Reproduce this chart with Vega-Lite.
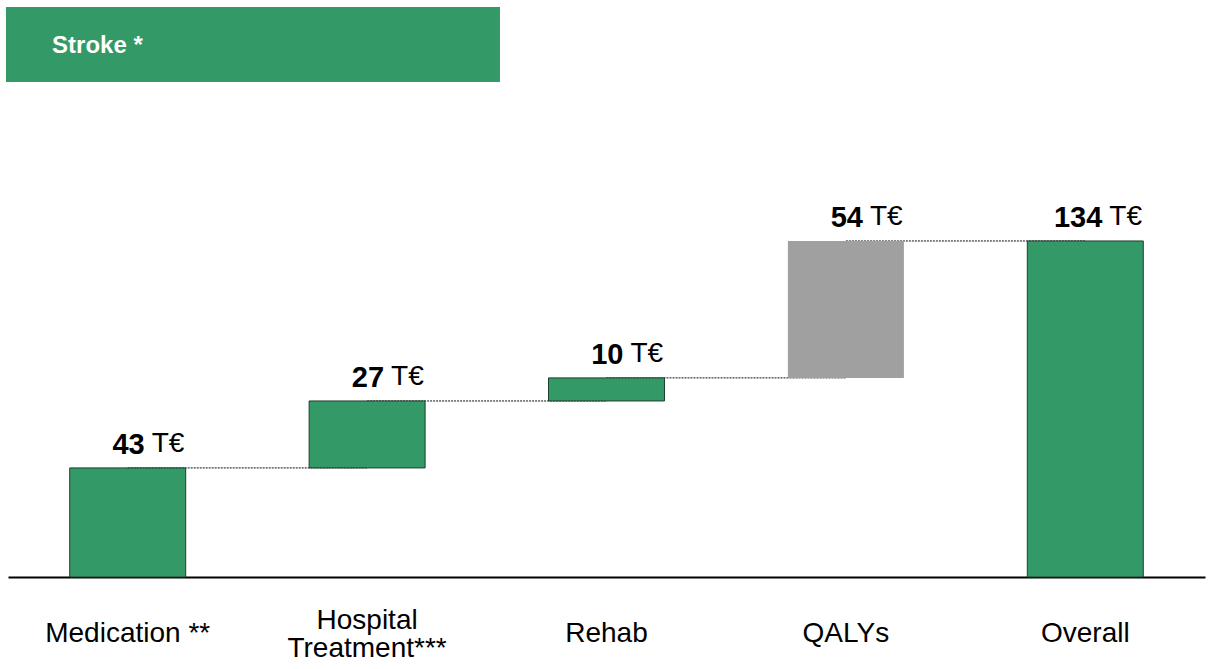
{
  "$schema": "https://vega.github.io/schema/vega-lite/v6.json",
  "autosize": {"type": "none"},
  "width": 1197,
  "height": 570,
  "padding": {"left": 8, "top": 7, "right": 8, "bottom": 92},
  "background": "white",
  "config": {"view": {"stroke": null}},
  "data": {
    "values": [
      {"kind": "bar", "cat": "Medication **", "start": 0, "end": 43.5, "label": "43", "type": "cost", "lines": 1},
      {"kind": "bar", "cat": "Hospital|Treatment***", "start": 43.5, "end": 70.2, "label": "27", "type": "cost", "lines": 2},
      {"kind": "bar", "cat": "Rehab", "start": 70.2, "end": 79.4, "label": "10", "type": "cost", "lines": 1},
      {"kind": "bar", "cat": "QALYs", "start": 79.4, "end": 134, "label": "54", "type": "qaly", "lines": 1},
      {"kind": "bar", "cat": "Overall", "start": 0, "end": 134, "label": "134", "type": "cost", "lines": 1},
      {"kind": "link", "seg": 1, "cat": "Medication **", "level": 43.5},
      {"kind": "link", "seg": 1, "cat": "Hospital|Treatment***", "level": 43.5},
      {"kind": "link", "seg": 2, "cat": "Hospital|Treatment***", "level": 70.2},
      {"kind": "link", "seg": 2, "cat": "Rehab", "level": 70.2},
      {"kind": "link", "seg": 3, "cat": "Rehab", "level": 79.4},
      {"kind": "link", "seg": 3, "cat": "QALYs", "level": 79.4},
      {"kind": "link", "seg": 4, "cat": "QALYs", "level": 134},
      {"kind": "link", "seg": 4, "cat": "Overall", "level": 134},
      {"kind": "header", "hx": -0.0017, "hx2": 0.411, "hy": 197.4, "hy2": 227.3, "tx": 0.0368, "ty": 211.8, "title": "Stroke *"}
    ]
  },
  "resolve": {"scale": {"x": "independent"}, "axis": {"x": "independent"}},
  "layer": [
    {
      "transform": [{"filter": "datum.kind == 'header'"}],
      "mark": {"type": "rect", "color": "#339966"},
      "encoding": {
        "x": {"field": "hx", "type": "quantitative", "scale": {"domain": [0, 1], "nice": false, "zero": false}, "axis": null},
        "x2": {"field": "hx2"},
        "y": {"field": "hy", "type": "quantitative", "scale": {"domain": [0, 227.3], "nice": false}, "axis": null},
        "y2": {"field": "hy2"}
      }
    },
    {
      "transform": [{"filter": "datum.kind == 'header'"}],
      "mark": {"type": "text", "align": "left", "baseline": "middle", "color": "white", "fontWeight": "bold", "fontSize": 24, "font": "Liberation Sans"},
      "encoding": {
        "x": {"field": "tx", "type": "quantitative", "scale": {"domain": [0, 1], "nice": false, "zero": false}, "axis": null},
        "y": {"field": "ty", "type": "quantitative"},
        "text": {"field": "title"}
      }
    },
    {
      "transform": [{"filter": "datum.kind == 'link'"}],
      "mark": {"type": "line", "color": "#111111", "strokeWidth": 1, "strokeDash": [2, 1]},
      "encoding": {
        "x": {"field": "cat", "type": "nominal", "axis": null,
              "scale": {"domain": ["Medication **", "Hospital|Treatment***", "Rehab", "QALYs", "Overall"], "paddingInner": 0.5155, "paddingOuter": 0.2578}},
        "y": {"field": "level", "type": "quantitative"},
        "detail": {"field": "seg", "type": "nominal"}
      }
    },
    {
      "transform": [{"filter": "datum.kind == 'bar' && datum.type == 'cost'"}],
      "mark": {"type": "bar", "color": "#339966", "stroke": "#1f3f2c", "strokeWidth": 1},
      "encoding": {
        "x": {
          "field": "cat", "type": "nominal",
          "scale": {"domain": ["Medication **", "Hospital|Treatment***", "Rehab", "QALYs", "Overall"], "paddingInner": 0.5155, "paddingOuter": 0.2578},
          "axis": {"title": null, "labels": false, "ticks": false, "domainColor": "black", "domainWidth": 2}
        },
        "y": {"field": "start", "type": "quantitative"},
        "y2": {"field": "end"}
      }
    },
    {
      "transform": [{"filter": "datum.kind == 'bar' && datum.type == 'qaly'"}],
      "mark": {"type": "bar", "color": "#A0A0A0"},
      "encoding": {
        "x": {"field": "cat", "type": "nominal", "axis": null,
              "scale": {"domain": ["Medication **", "Hospital|Treatment***", "Rehab", "QALYs", "Overall"], "paddingInner": 0.5155, "paddingOuter": 0.2578}},
        "y": {"field": "start", "type": "quantitative"},
        "y2": {"field": "end"}
      }
    },
    {
      "transform": [{"filter": "datum.kind == 'bar'"}],
      "mark": {"type": "text", "align": "right", "baseline": "alphabetic", "dx": 17, "dy": -14, "fontWeight": "bold", "fontSize": 29, "font": "Liberation Sans", "color": "black"},
      "encoding": {
        "x": {"field": "cat", "type": "nominal", "axis": null,
              "scale": {"domain": ["Medication **", "Hospital|Treatment***", "Rehab", "QALYs", "Overall"], "paddingInner": 0.5155, "paddingOuter": 0.2578}},
        "y": {"field": "end", "type": "quantitative"},
        "text": {"field": "label"}
      }
    },
    {
      "transform": [{"filter": "datum.kind == 'bar'"}],
      "mark": {"type": "text", "align": "left", "baseline": "alphabetic", "dx": 24, "dy": -16, "fontSize": 28, "font": "Liberation Sans", "color": "black"},
      "encoding": {
        "x": {"field": "cat", "type": "nominal", "axis": null,
              "scale": {"domain": ["Medication **", "Hospital|Treatment***", "Rehab", "QALYs", "Overall"], "paddingInner": 0.5155, "paddingOuter": 0.2578}},
        "y": {"field": "end", "type": "quantitative"},
        "text": {"value": "T€"}
      }
    },
    {
      "transform": [{"filter": "datum.kind == 'bar' && datum.lines == 1"}],
      "mark": {"type": "text", "align": "center", "baseline": "middle", "dy": 57, "fontSize": 28, "font": "Liberation Sans", "color": "black"},
      "encoding": {
        "x": {"field": "cat", "type": "nominal", "axis": null,
              "scale": {"domain": ["Medication **", "Hospital|Treatment***", "Rehab", "QALYs", "Overall"], "paddingInner": 0.5155, "paddingOuter": 0.2578}},
        "y": {"datum": 0, "type": "quantitative"},
        "text": {"field": "cat"}
      }
    },
    {
      "transform": [{"filter": "datum.kind == 'bar' && datum.lines == 2"}],
      "mark": {"type": "text", "align": "center", "baseline": "middle", "dy": 44, "lineBreak": "|", "lineHeight": 28, "fontSize": 28, "font": "Liberation Sans", "color": "black"},
      "encoding": {
        "x": {"field": "cat", "type": "nominal", "axis": null,
              "scale": {"domain": ["Medication **", "Hospital|Treatment***", "Rehab", "QALYs", "Overall"], "paddingInner": 0.5155, "paddingOuter": 0.2578}},
        "y": {"datum": 0, "type": "quantitative"},
        "text": {"field": "cat"}
      }
    }
  ]
}
